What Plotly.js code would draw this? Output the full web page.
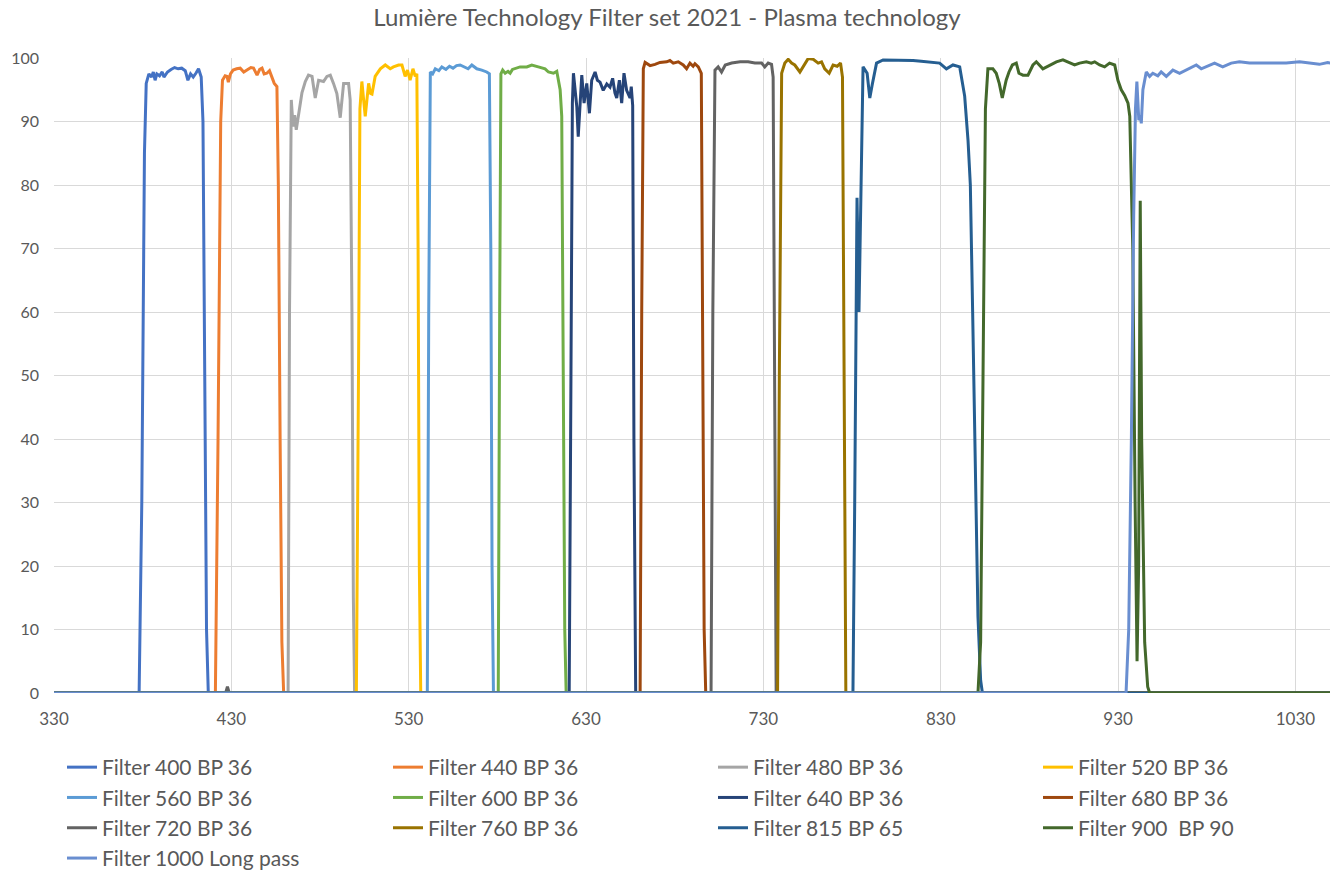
<!DOCTYPE html>
<html>
<head>
<meta charset="utf-8">
<script src="https://cdn.plot.ly/plotly-3.0.1.min.js"></script>
<style>html,body{margin:0;padding:0;background:#fff;}#chart{width:1334px;height:870px;}</style>
</head>
<body>
<div id="chart"></div>
<script>
// ---- data: wavelength (nm) and transmission (%) per filter ----
const names = ["Filter 400 BP 36","Filter 440 BP 36","Filter 480 BP 36","Filter 520 BP 36",
  "Filter 560 BP 36","Filter 600 BP 36","Filter 640 BP 36","Filter 680 BP 36",
  "Filter 720 BP 36","Filter 760 BP 36","Filter 815 BP 65","Filter 900  BP 90","Filter 1000 Long pass"];

const wl400 = [330,378,379.5,381,382,383.5,385,386,387,388,389.5,391,392,394,396,398,400,402,404,405.5,407,408.5,410,411.5,413,414,415,416,417,418,1050];
const t400  = [0,0,30,85,96,97.5,97,97.8,96.5,97.5,97.2,97.8,97,97.8,98.2,98.5,98.3,98.4,98,96.5,97.5,97,97.6,98.3,97,90,50,10,0,0,0];

const wl440 = [330,421,422.5,424,425,426.5,427.6,428.3,429.5,431,433,435,437,439,441,442.5,444.5,446,447.3,448.5,450,451.5,453,454.2,455.7,456.5,457.5,458.5,459.5,1050];
const t440  = [0,0,40,90,96.5,97.2,97.1,96.2,97.5,98.1,98.3,98.4,97.8,98.1,98.5,98.4,97.3,98.2,98.4,97.5,97.6,98,96.8,96,95.5,80,40,8,0,0];

const wl480 = [330,462,462.8,463.8,464.8,465.7,466.6,467.9,469.8,471.7,473.5,475.5,477.3,479.2,482,483.9,485.8,487.6,489.5,491.4,493.3,496.1,497,498,498.8,499.5,1050];
const t480  = [0,0,60,93.4,89.2,91,88.7,90.8,94.5,96.3,97.3,97.1,93.7,96.5,96.3,97.1,97.3,96,94.4,90.6,96,96,93.4,60,15,0,0];

const wl520 = [330,500.5,501.7,502.5,503.6,505.5,507.4,508.5,509.3,511.1,514,516.8,519.6,521.4,524.3,526.2,528,529.3,530.8,532.4,533.7,534.6,535.3,536,536.8,1050];
const t520  = [0,0,50,92,96.3,90.8,96,94.4,94.3,97.1,98.3,98.9,98.3,98.6,98.9,98.9,97.1,98.1,96.5,98.3,97.1,97.5,70,20,0,0];

const wl560 = [330,540.5,541.3,542.2,543.5,545,547,548.7,551,553,555,557,559,561.8,563.5,565.6,568.4,571.2,574,575.5,576.3,577,577.8,1050];
const t560  = [0,0,60,97.8,97.5,98.3,98,98.6,98.2,98.7,98.4,98.8,98.9,98.6,98.3,98.9,98.3,98.1,97.8,97.5,70,20,0,0];

const wl600 = [330,580.5,581.3,582,583,584.4,586,587.2,588.5,590,592.8,596.6,599.4,603.1,606.9,608.8,611.6,613.5,614.4,615.4,616.3,617.3,618,618.8,1050];
const t600  = [0,0,60,97.5,98.1,97.6,97.9,97.6,98.2,98.3,98.6,98.6,98.9,98.6,98.3,97.8,97.6,97.9,96.5,95,90.8,50,10,0,0];

const wl640 = [330,620.5,621.5,622.3,622.9,623.8,624.8,625.6,626.6,627.6,628.9,630.4,631.9,633.2,635.1,636.4,637.9,639.7,641.7,643.5,645,646.3,647.3,648.8,650.1,651.4,652.9,654.8,655.5,656.3,657,658,1050];
const t640  = [0,0,50,92.9,97.6,95,92.3,87.6,93.7,97.3,92.9,96,91.3,96.5,97.8,96.5,96.2,94.9,95.9,95.4,96.8,94.5,93.7,96.5,92.9,97.6,94.9,93.7,95.5,92.5,40,0,0];

const wl680 = [330,660.5,661.4,662.3,663.3,666.1,668.9,671.7,675.5,677.3,679.2,682,684.8,686.7,688.6,690.4,691.4,693.3,695,695.8,696.6,697.5,1050];
const t680  = [0,0,60,98.3,99.3,98.8,99,99.3,99.4,99.6,99.2,99.4,98.9,98.3,99.2,98.7,99.1,98.6,97.6,60,10,0,0];

const wl720 = [330,426.8,427.8,428.8,700.5,701.5,702.7,704.5,706.4,708.5,712.1,716.9,721.4,725.2,729,730.8,732.7,734.6,735.5,736.3,737.2,1050];
const t720  = [0,0,1,0,0,60,98.1,98.6,97.8,98.9,99.2,99.4,99.4,99.2,99.2,98.6,99.2,99,97,50,0,0];

const wl760 = [330,738,739,740.3,742.1,744,745.9,747.7,750.6,753.4,755.2,758.1,760.9,762.8,764.6,767.1,769.3,771.6,773.5,774.6,775.5,776.5,1050];
const t760  = [0,0,50,97.6,99.2,99.8,99.2,98.9,97.8,99.2,99.9,99.8,99.2,99.4,98.3,97.6,98.9,98.7,99.2,97,40,0,0];

const wl815 = [330,780.5,781.5,782.8,783.9,784.9,786.2,788.5,790,791.5,793.8,797.5,803.1,808,814.4,819,823.8,829.4,833.2,836.9,840.7,842.2,843.5,845.4,846.7,848,849.5,851,852.5,853.5,1050];
const t815  = [0,0,30,78,60,80,98.6,97.6,93.7,96,99.2,99.7,99.7,99.6,99.6,99.5,99.4,99.2,98.3,98.9,98.6,96,94,87,80,60,35,12,2,0,0];

const wl900 = [330,851,852.5,854,855.2,856.6,859.4,861.3,863,864.7,866.9,868.5,870.4,872.6,874.1,876.4,879.2,882,883.9,887.6,891.4,895.2,898.9,902.7,905.5,908.3,912.1,914.9,916.8,919.6,922.4,925.2,928.1,929.9,931.8,933.7,935.6,936.6,938.3,939.6,940.7,941.6,942.5,943.3,945,946.7,947.8,1050];
const t900  = [0,0,8,50,92,98.3,98.3,97.6,96,93.7,96.5,97.8,98.9,99.2,97.6,97.3,97.3,98.9,99.4,98.3,98.9,99.4,99.7,99.2,98.9,99.2,99.4,99.2,99.4,98.9,98.6,99.2,98.9,96.5,95,94.1,92.9,90.8,70,30,5,20,77.5,40,8,1,0,0];

const wl1000 = [330,934.5,936,937.5,938.8,939.8,940.6,941.7,942.5,943.1,944,945.9,947.8,949.6,952.4,954.3,957.2,960.9,964.7,969.3,974.1,976.9,979.7,984.4,989,993.8,998.4,1004.1,1009.7,1017.2,1024.8,1032.3,1039.8,1043.5,1048.2,1050];
const t1000  = [0,0,10,40,75,92,96.3,90.2,91,89.7,95,97.8,97.1,97.6,97.2,97.8,97.1,98.1,97.6,98.3,98.9,98.3,98.6,99.2,98.6,99.2,99.4,99.2,99.2,99.2,99.2,99.4,99.2,99,99.3,99.2];

const xTickVals = [330,430,530,630,730,830,930,1030];
const yTickVals = [0,10,20,30,40,50,60,70,80,90,100];

// ---- styles ----
const colors = ["#4472C4","#ED7D31","#A5A5A5","#FFC000","#5B9BD5","#70AD47","#264478","#9E480E","#636363","#997300","#255E91","#43682B","#698ED0"];
const legendOf = ["legend","legend2","legend3","legend4","legend","legend2","legend3","legend4","legend","legend2","legend3","legend4","legend"];
const xs = [wl400,wl440,wl480,wl520,wl560,wl600,wl640,wl680,wl720,wl760,wl815,wl900,wl1000];
const ys = [t400,t440,t480,t520,t560,t600,t640,t680,t720,t760,t815,t900,t1000];

const traces = names.map((n,i)=>({
  type:"scatter", mode:"lines", name:n, x:xs[i], y:ys[i],
  line:{color:colors[i], width:3}, legend:legendOf[i], hoverinfo:"skip"
}));

const FONT = "Lato, 'Open Sans', sans-serif";
const TXT = "#595959";
function leg(xpx){
  return {x:xpx/1334, xref:"container", xanchor:"left", y:1-747/870, yref:"container", yanchor:"top",
    orientation:"v", font:{family:FONT,size:21,color:TXT}, bgcolor:"rgba(0,0,0,0)", borderwidth:0, traceorder:"normal"};
}

const layout = {
  width:1334, height:870,
  paper_bgcolor:"#fff", plot_bgcolor:"#fff",
  margin:{l:53.5, r:4, t:58, b:176.5, pad:0, autoexpand:false},
  title:{text:"Lumière Technology Filter set 2021 - Plasma technology", x:0.5, xanchor:"center", y:1-18/870, yanchor:"middle", yref:"container",
    font:{family:FONT, size:24, color:TXT}},
  xaxis:{range:[330,1049.5], tickvals:xTickVals, ticktext:xTickVals.map(String), showgrid:true, gridcolor:"#D9D9D9", gridwidth:1,
    zeroline:false, showline:false, ticks:"", ticklabelstandoff:14, tickfont:{family:FONT,size:17,color:TXT}, fixedrange:true, automargin:false},
  yaxis:{range:[0,100], tickvals:yTickVals, ticktext:yTickVals.map(String), showgrid:true, gridcolor:"#D9D9D9", gridwidth:1,
    zeroline:false, showline:false, ticks:"", ticklabelstandoff:14, tickfont:{family:FONT,size:16,color:TXT}, fixedrange:true, automargin:false},
  showlegend:true,
  legend:leg(62), legend2:leg(388), legend3:leg(713), legend4:leg(1038)
};

Plotly.newPlot("chart", traces, layout, {displayModeBar:false, staticPlot:true});
</script>
</body>
</html>
